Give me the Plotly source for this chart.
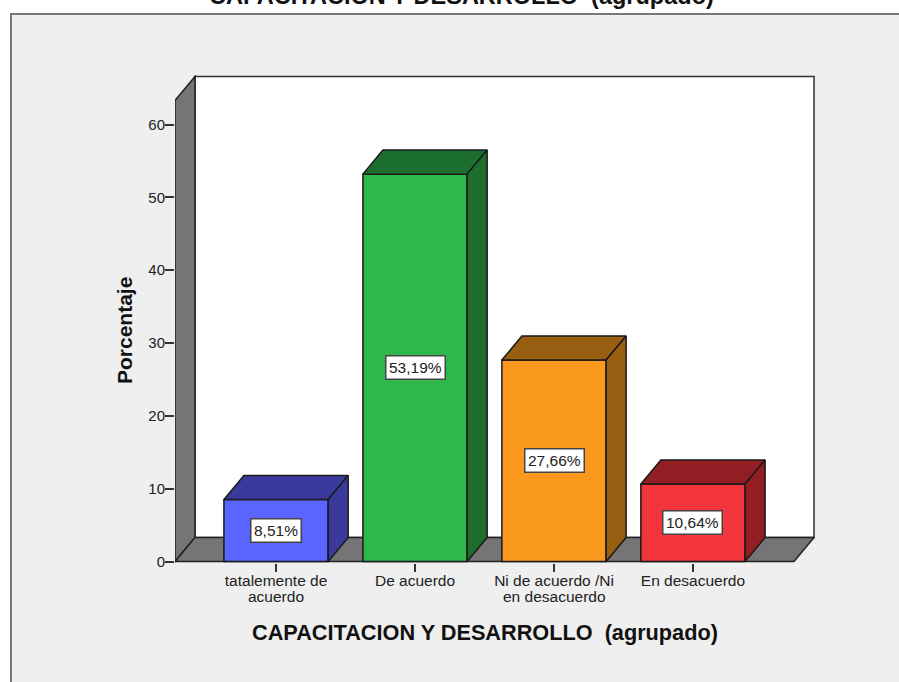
"""SPSS style 3D bar chart: CAPACITACION Y DESARROLLO (agrupado)."""
import plotly.graph_objects as go

CATEGORIES = ["tatalemente de", "De acuerdo", "Ni de acuerdo /Ni", "En desacuerdo"]
CATEGORIES_LINE2 = ["acuerdo", "", "en desacuerdo", ""]
PERCENTAGES = [8.51, 53.19, 27.66, 10.64]
FRONT_COLORS = ["#5A64FF", "#2EB84B", "#FB991E", "#F2343C"]
SIDE_COLORS = ["#393A9C", "#1C6E2E", "#985E12", "#921D22"]
Y_TICKS = [0, 10, 20, 30, 40, 50, 60]
TITLE = "CAPACITACION Y DESARROLLO  (agrupado)"

COLOR_BG = "#EFEFEF"
COLOR_WALL = "#757575"
COLOR_EDGE = "#1A1A1A"
FONT = "Liberation Sans"

WIDTH, HEIGHT = 899, 682
MARGIN = dict(l=175, r=84, t=75, b=119, pad=0)
X_RANGE = [-0.727, 3.878]
Y_RANGE = [-0.2, 66.8]

BAR_WIDTH = 0.75
DEPTH_X = 0.144
DEPTH_Y = 3.3
WALL_LEFT = X_RANGE[0]
FLOOR_RIGHT = 3.727
WALL_TOP = 63.3


def px_x(px):
    return (px - MARGIN["l"]) / (WIDTH - MARGIN["l"] - MARGIN["r"])


def px_y(py):
    return (HEIGHT - MARGIN["b"] - py) / (HEIGHT - MARGIN["t"] - MARGIN["b"])


def poly(points):
    return "M " + " L ".join(f"{x},{y}" for x, y in points) + " Z"


def label(px, py, text, size, angle=0):
    # free text placed in page pixels
    return dict(
        x=px_x(px), y=px_y(py), xref="paper", yref="paper", showarrow=False,
        xanchor="center", yanchor="middle", textangle=angle, text=text,
        font=dict(family=FONT, size=size, color="#111111", weight="bold"),
    )


positions = list(range(len(CATEGORIES)))
fig = go.Figure()

fig.add_trace(go.Bar(
    x=positions,
    y=PERCENTAGES,
    width=BAR_WIDTH,
    marker=dict(color=FRONT_COLORS, line=dict(color=COLOR_EDGE, width=1.5)),
    showlegend=False,
    hoverinfo="skip",
))

for pos, value, side in zip(positions, PERCENTAGES, SIDE_COLORS):
    left, right = pos - BAR_WIDTH / 2, pos + BAR_WIDTH / 2
    # top face
    fig.add_trace(go.Scatter(
        x=[left, right, right + DEPTH_X, left + DEPTH_X, left],
        y=[value, value, value + DEPTH_Y, value + DEPTH_Y, value],
        mode="lines", fill="toself", fillcolor=side,
        line=dict(color=COLOR_EDGE, width=1.5),
        showlegend=False, hoverinfo="skip",
    ))
    # side face
    fig.add_trace(go.Scatter(
        x=[right, right + DEPTH_X, right + DEPTH_X, right, right],
        y=[0, DEPTH_Y, value + DEPTH_Y, value, 0],
        mode="lines", fill="toself", fillcolor=side,
        line=dict(color=COLOR_EDGE, width=1.5),
        showlegend=False, hoverinfo="skip",
    ))

shapes = [
    # outer chart frame
    dict(type="rect", xref="paper", yref="paper", layer="below",
         x0=px_x(11), x1=px_x(940), y0=px_y(720), y1=px_y(14),
         fillcolor=COLOR_BG, line=dict(color="#777777", width=2)),
    # back wall
    dict(type="rect", xref="x", yref="y", layer="below",
         x0=WALL_LEFT + DEPTH_X, x1=FLOOR_RIGHT + DEPTH_X, y0=DEPTH_Y, y1=WALL_TOP + DEPTH_Y,
         fillcolor="white", line=dict(color="#333333", width=1.5)),
    # left wall
    dict(type="path", xref="x", yref="y", layer="below",
         path=poly([(WALL_LEFT, 0), (WALL_LEFT + DEPTH_X, DEPTH_Y),
                    (WALL_LEFT + DEPTH_X, WALL_TOP + DEPTH_Y), (WALL_LEFT, WALL_TOP)]),
         fillcolor=COLOR_WALL, line=dict(color="#222222", width=1.5)),
    # floor
    dict(type="path", xref="x", yref="y", layer="below",
         path=poly([(WALL_LEFT, 0), (WALL_LEFT + DEPTH_X, DEPTH_Y),
                    (FLOOR_RIGHT + DEPTH_X, DEPTH_Y), (FLOOR_RIGHT, 0)]),
         fillcolor=COLOR_WALL, line=dict(color="#222222", width=1.5)),
]

annotations = [
    dict(x=pos, y=value / 2, xref="x", yref="y", showarrow=False,
         text=f"{value:.2f}%".replace(".", ","),
         font=dict(family=FONT, size=15.5, color="#222222"),
         bgcolor="white", bordercolor="#444444", borderwidth=1.5, borderpad=2.5)
    for pos, value in zip(positions, PERCENTAGES)
]
# second lines of the category labels sit closer than a <br> would put them
for pos, line2 in zip(positions, CATEGORIES_LINE2):
    if line2:
        annotations.append(dict(
            x=pos, y=px_y(596.5), xref="x", yref="paper", showarrow=False,
            xanchor="center", yanchor="middle", text=line2,
            font=dict(family=FONT, size=15.5, color="#222222"),
        ))
annotations.append(label(485, 632, TITLE, 21.7))
annotations.append(label(124, 331, "Porcentaje", 21, angle=-90))
annotations.append(label(461, -4, TITLE, 23.5))

fig.update_layout(
    width=WIDTH,
    height=HEIGHT,
    margin=MARGIN,
    paper_bgcolor="white",
    plot_bgcolor="rgba(0,0,0,0)",
    showlegend=False,
    shapes=shapes,
    annotations=annotations,
    xaxis=dict(
        range=X_RANGE, tickvals=positions, ticktext=CATEGORIES,
        ticks="outside", ticklen=8, tickwidth=1.5, tickcolor="#333333",
        ticklabelstandoff=-5,
        tickfont=dict(family=FONT, size=15.5, color="#222222"),
        showgrid=False, zeroline=False, showline=False,
    ),
    yaxis=dict(
        range=Y_RANGE, tickvals=Y_TICKS,
        ticks="outside", ticklen=9, tickwidth=1.5, tickcolor="#333333",
        ticklabelstandoff=-3,
        tickfont=dict(family=FONT, size=15, color="#222222"),
        showgrid=False, zeroline=False, showline=False,
    ),
)

fig.write_html(
    "out.html",
    config={"displayModeBar": False},
    post_script="document.body.style.margin='0';document.body.style.overflow='hidden';",
)
